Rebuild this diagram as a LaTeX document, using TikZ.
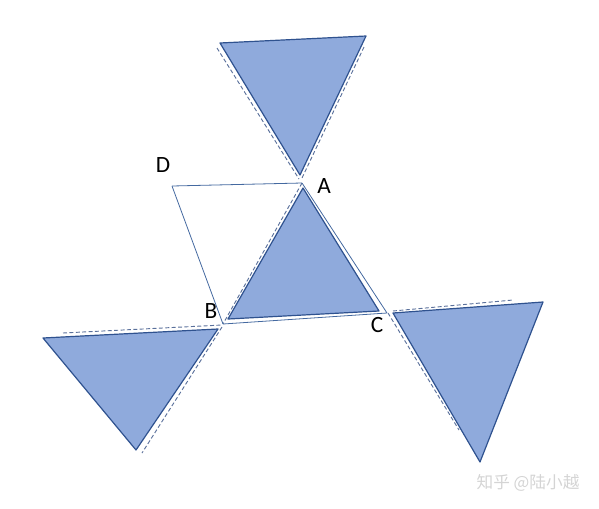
\documentclass[tikz,border=0pt]{standalone}
\usepackage{fontspec}
\setmainfont{Carlito}
\newfontfamily\cjk{Noto Sans CJK SC}
\usepackage{tikz}
\usetikzlibrary{calc,positioning}
\definecolor{fillblue}{RGB}{143,170,220}
\definecolor{edgeblue}{RGB}{47,82,143}
\definecolor{lineblue}{RGB}{68,105,160}
\definecolor{dashblue}{RGB}{90,112,155}
\tikzstyle{Tri}=[fill=fillblue,draw=edgeblue,line width=0.9pt,line join=round]
\tikzstyle{thinedge}=[draw=lineblue,line width=0.6pt]
\tikzstyle{guide}=[draw=dashblue,line width=0.7pt,dash pattern=on 3pt off 1.8pt]
\tikzstyle{Lbl}=[font=\fontsize{17.5}{20}\selectfont,inner sep=0pt]

\begin{document}
\begin{tikzpicture}[x=0.75pt,y=-0.75pt]
\useasboundingbox (0,0) rectangle (599,508);

%points of the outline
\coordinate (A) at (302,183);
\coordinate (B) at (223,324);
\coordinate (C) at (387,313);
\coordinate (D) at (172,186);

%middle triangle
\draw[Tri] (303,188) -- (228,319) -- (379,311) -- cycle;
%top triangle
\draw[Tri] (220,43) -- (366,36) -- (300,175) -- cycle;
%left triangle
\draw[Tri] (43,338) -- (218,329) -- (136,450) -- cycle;
%right triangle
\draw[Tri] (393,313) -- (543,302) -- (480,462) -- cycle;

\node[Lbl] (lA) at (324,186) {A};
\node[Lbl] (lB) at (211,311) {B};
\node[Lbl] (lC) at (377,325) {C};
\node[Lbl] (lD) at (163,165) {D};

%dashed guides
\coordinate (t1) at (217,48);  \coordinate (t2) at (299,179);
\coordinate (t3) at (364,47);  \coordinate (t4) at (302,178);
\coordinate (l1) at (63,333);  \coordinate (l2) at (222,325);
\coordinate (l3) at (222,327); \coordinate (l4) at (142,453);
\coordinate (r1) at (393,311); \coordinate (r2) at (513,300);
\coordinate (r3) at (388,313); \coordinate (r4) at (459,430);

\path
(t1) edge [guide] (t2)
(t3) edge [guide] (t4)
(l1) edge [guide] (l2)
(l3) edge [guide] (l4)
(r1) edge [guide] (r2)
(r3) edge [guide] (r4)
(A) edge [guide] (B)

(A) edge [thinedge] (C)
(B) edge [thinedge] (C)
(D) edge [thinedge] (A)
(D) edge [thinedge] (B)
;

\node[font=\cjk\fontsize{12.5}{14}\selectfont,text=black!17] (mark) at (528,483) {知乎 @陆小越};
\end{tikzpicture}
\end{document}
